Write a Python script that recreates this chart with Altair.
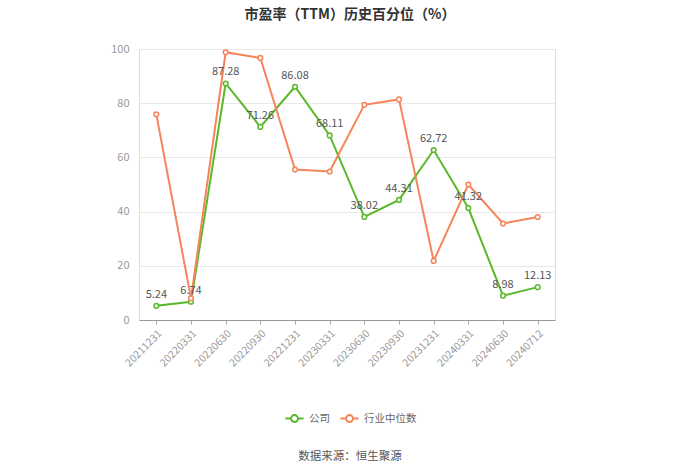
import altair as alt
import pandas as pd

dates = ["20211231", "20220331", "20220630", "20220930", "20221231", "20230331",
         "20230630", "20230930", "20231231", "20240331", "20240630", "20240712"]
company = [5.24, 6.74, 87.28, 71.26, 86.08, 68.11, 38.02, 44.31, 62.72, 41.32, 8.98, 12.13]
industry = [75.9, 8.0, 98.8, 96.7, 55.5, 54.8, 79.4, 81.4, 21.8, 50.0, 35.6, 38.0]
series_names = ["公司", "行业中位数"]
colors = ["#5ab82a", "#f5845a"]

rows = []
for i, d in enumerate(dates):
    rows.append({"date": d, "series": series_names[0], "value": company[i], "label": f"{company[i]:.2f}"})
    rows.append({"date": d, "series": series_names[1], "value": industry[i], "label": ""})
df = pd.DataFrame(rows)

FONT = "Noto Sans CJK SC"
W, H = 416, 271

x_enc = alt.X("date:N", sort=dates, title=None,
              scale=alt.Scale(type="point", padding=0.5),
              axis=alt.Axis(labelAngle=-45, labelColor="#999999", labelFontSize=10.5,
                            labelFont=FONT, tickColor="#aaaaaa", tickSize=4,
                            domainColor="#999999", labelPadding=4, grid=False))
y_enc = alt.Y("value:Q", title=None, scale=alt.Scale(domain=[0, 100], nice=False),
              axis=alt.Axis(values=[0, 20, 40, 60, 80, 100], labelColor="#999999",
                            labelFontSize=11, labelFont=FONT, domain=False, ticks=False,
                            gridColor="#e8e8e8", labelPadding=10))
color_enc = alt.Color("series:N", sort=series_names,
                      scale=alt.Scale(domain=series_names, range=colors),
                      legend=alt.Legend(title=None, orient="none", legendX=145, legendY=359,
                                        direction="horizontal", labelFont=FONT,
                                        labelFontSize=10.5, labelColor="#666666",
                                        symbolType="M-1,0L-0.38,0M0.38,0L1,0M-0.38,0A0.38,0.38,0,1,1,0.38,0A0.38,0.38,0,1,1,-0.38,0",
                                        symbolSize=330, symbolStrokeWidth=2,
                                        symbolFillColor="white", columnPadding=6,
                                        labelOffset=4))

base = alt.Chart(df)
lines = base.mark_line(strokeWidth=2).encode(x=x_enc, y=y_enc, color=color_enc,
                                                detail="series:N")
points = base.mark_point(filled=True, fill="white", size=22, strokeWidth=1.5, opacity=1).encode(
    x=alt.X("date:N", sort=dates), y="value:Q",
    stroke=alt.Stroke("series:N", scale=alt.Scale(domain=series_names, range=colors), legend=None))
labels = base.transform_filter(alt.datum.series == series_names[0]).mark_text(
    dy=-11, fontSize=11, color="#555555", font=FONT).encode(
    x=alt.X("date:N", sort=dates), y="value:Q", text="label:N")

title = alt.Chart(pd.DataFrame({"t": ["市盈率（TTM）历史百分位（%）"]})).mark_text(
    fontSize=14, fontWeight="bold", color="#333333", font=FONT).encode(
    x=alt.value(211), y=alt.value(-34), text="t:N")
source = alt.Chart(pd.DataFrame({"t": ["数据来源：恒生聚源"]})).mark_text(
    fontSize=11.5, color="#555555", font=FONT).encode(
    x=alt.value(211), y=alt.value(408), text="t:N")

chart = alt.layer(lines, points, labels, title, source).properties(
    width=W, height=H,
    autosize=alt.AutoSizeParams(type="none"),
    padding={"left": 139, "top": 49, "right": 145, "bottom": 154},
).configure_view(stroke=None).configure(background="white")

chart.save("out.html", embed_options={"renderer": "svg", "actions": False})
